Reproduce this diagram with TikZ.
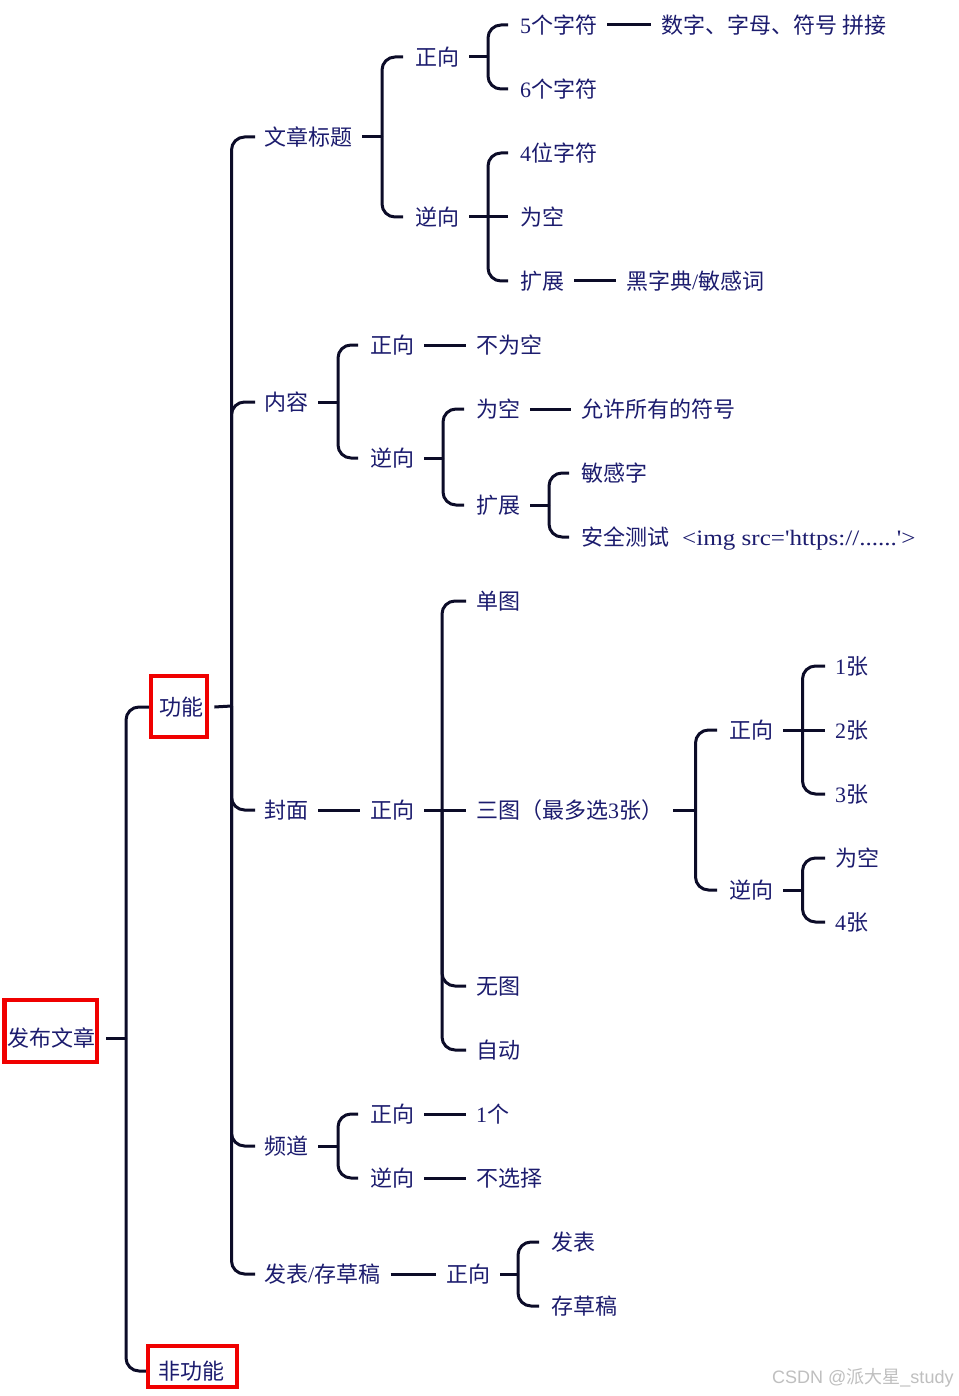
\documentclass[tikz,border=0pt]{standalone}
\usepackage{fontspec}
\setmainfont{Liberation Serif}
\newfontfamily\cjk{Noto Sans CJK SC}
\newfontfamily\lat{Liberation Serif}
\newfontfamily\latw{Liberation Serif}[FakeStretch=1.14]
\newfontfamily\wmsans{Liberation Sans}
\newcommand\D[1]{{\lat #1}}
\definecolor{ink}{RGB}{28,28,110}
\definecolor{wire}{RGB}{12,12,40}
\definecolor{boxred}{RGB}{240,0,0}
\begin{document}
\begin{tikzpicture}[x=1pt,y=-1pt,
  txt/.style={anchor=west, inner sep=0pt, text height=20pt, text depth=3pt,
    font=\cjk\fontsize{22}{26}\selectfont, text=ink},
  link/.style={draw=wire, line width=3pt},
  brk/.style={link, rounded corners=13pt},
  redbox/.style={draw=boxred, line width=4.5pt, inner sep=0pt}]
\useasboundingbox (0,0) rectangle (958,1396);
\fill[white] (0,0) rectangle (958,1396);

% ---------- nodes ----------
\node[txt] (root) at (7,1038) {发布文章};
\node[txt] (gn) at (159,707) {功能};
\node[txt] (fgn) at (158,1371) {非功能};

\node[txt] (a1) at (264,137) {文章标题};
\node[txt] (a1z) at (415,57) {正向};
\node[txt] (a1z1) at (520,25) {\D{5}个字符};
\node[txt] (a1z1d) at (661,25) {数字、字母、符号 拼接};
\node[txt] (a1z2) at (520,89) {\D{6}个字符};
\node[txt] (a1n) at (415,217) {逆向};
\node[txt] (a1n1) at (520,153) {\D{4}位字符};
\node[txt] (a1n2) at (520,217) {为空};
\node[txt] (a1n3) at (520,281) {扩展};
\node[txt] (a1n3d) at (626,281) {黑字典\D{/}敏感词};

\node[txt] (a2) at (264,402) {内容};
\node[txt] (a2z) at (370,345) {正向};
\node[txt] (a2zd) at (476,345) {不为空};
\node[txt] (a2n) at (370,458) {逆向};
\node[txt] (a2n1) at (476,409) {为空};
\node[txt] (a2n1d) at (581,409) {允许所有的符号};
\node[txt] (a2n2) at (476,505) {扩展};
\node[txt] (a2n2a) at (581,473) {敏感字};
\node[txt] (a2n2b) at (581,537) {安全测试\hspace{13pt}{\latw <img src='https://......'>}};

\node[txt] (a3) at (264,810) {封面};
\node[txt] (a3z) at (370,810) {正向};
\node[txt] (a3z1) at (476,601) {单图};
\node[txt] (a3z2) at (476,810) {三图（最多选\D{3}张）};
\node[txt] (a3z3) at (476,986) {无图};
\node[txt] (a3z4) at (476,1050) {自动};
\node[txt] (a3zz) at (729,730) {正向};
\node[txt] (a3zn) at (729,890) {逆向};
\node[txt] (p1) at (835,666) {\D{1}张};
\node[txt] (p2) at (835,730) {\D{2}张};
\node[txt] (p3) at (835,794) {\D{3}张};
\node[txt] (q1) at (835,858) {为空};
\node[txt] (q2) at (835,922) {\D{4}张};

\node[txt] (a4) at (264,1146) {频道};
\node[txt] (a4z) at (370,1114) {正向};
\node[txt] (a4zd) at (476,1114) {\D{1}个};
\node[txt] (a4n) at (370,1178) {逆向};
\node[txt] (a4nd) at (476,1178) {不选择};

\node[txt] (a5) at (264,1274) {发表\D{/}存草稿};
\node[txt] (a5z) at (446,1274) {正向};
\node[txt] (a5z1) at (551,1242) {发表};
\node[txt] (a5z2) at (551,1306) {存草稿};

\node[anchor=west, inner sep=0pt, text=black!25, font=\wmsans\fontsize{18}{21}\selectfont] (wm) at (772,1378) {CSDN @{\cjk 派大星}\_study};

% ---------- bracket points ----------
\coordinate (bR) at (126,1038);
\coordinate (bF) at (231.5,706);
\coordinate (bA1) at (382,137);
\coordinate (bA1z) at (488,57);
\coordinate (bA1n) at (488,217);
\coordinate (bA2) at (338,402);
\coordinate (bA2n) at (443,458);
\coordinate (bA2n2) at (549,505);
\coordinate (bA3z) at (442,810);
\coordinate (bA3z2) at (695.5,810);
\coordinate (bA3zz) at (802.5,730);
\coordinate (bA3zn) at (802.5,890);
\coordinate (bA4) at (338,1146);
\coordinate (bA5z) at (518,1274);

% ---------- connectors ----------
% root
\draw[link] ([xshift=11]root.east) -- (bR);
\draw[brk] (bR) |- ([xshift=-10]gn.west);
\draw[brk] (bR) |- ([xshift=-10]fgn.west);
% 功能
\draw[link] ([xshift=11]gn.east) -- (bF);
\foreach \c in {a1,a2,a3,a4,a5} \draw[brk] (bF) |- ([xshift=-9]\c.west);
% 文章标题
\draw[link] ([xshift=10]a1.east) -- (bA1);
\foreach \c in {a1z,a1n} \draw[brk] (bA1) |- ([xshift=-12]\c.west);
\draw[link] ([xshift=10]a1z.east) -- (bA1z);
\foreach \c in {a1z1,a1z2} \draw[brk] (bA1z) |- ([xshift=-12]\c.west);
\draw[link] ([xshift=10]a1z1.east) -- ([xshift=-10]a1z1d.west);
\draw[link] ([xshift=10]a1n.east) -- (bA1n);
\foreach \c in {a1n1,a1n3} \draw[brk] (bA1n) |- ([xshift=-12]\c.west);
\draw[link] (bA1n) -- ([xshift=-12]a1n2.west);
\draw[link] ([xshift=10]a1n3.east) -- ([xshift=-10]a1n3d.west);
% 内容
\draw[link] ([xshift=10]a2.east) -- (bA2);
\foreach \c in {a2z,a2n} \draw[brk] (bA2) |- ([xshift=-12]\c.west);
\draw[link] ([xshift=10]a2z.east) -- ([xshift=-10]a2zd.west);
\draw[link] ([xshift=10]a2n.east) -- (bA2n);
\foreach \c in {a2n1,a2n2} \draw[brk] (bA2n) |- ([xshift=-12]\c.west);
\draw[link] ([xshift=10]a2n1.east) -- ([xshift=-10]a2n1d.west);
\draw[link] ([xshift=10]a2n2.east) -- (bA2n2);
\foreach \c in {a2n2a,a2n2b} \draw[brk] (bA2n2) |- ([xshift=-12]\c.west);
% 封面
\draw[link] ([xshift=10]a3.east) -- ([xshift=-10]a3z.west);
\draw[link] ([xshift=10]a3z.east) -- (bA3z);
\foreach \c in {a3z1,a3z3,a3z4} \draw[brk] (bA3z) |- ([xshift=-10]\c.west);
\draw[link] (bA3z) -- ([xshift=-10]a3z2.west);
\draw[link] ([xshift=10]a3z2.east) -- (bA3z2);
\foreach \c in {a3zz,a3zn} \draw[brk] (bA3z2) |- ([xshift=-12]\c.west);
\draw[link] ([xshift=10]a3zz.east) -- (bA3zz);
\foreach \c in {p1,p3} \draw[brk] (bA3zz) |- ([xshift=-10]\c.west);
\draw[link] (bA3zz) -- ([xshift=-10]p2.west);
\draw[link] ([xshift=10]a3zn.east) -- (bA3zn);
\foreach \c in {q1,q2} \draw[brk] (bA3zn) |- ([xshift=-10]\c.west);
% 频道
\draw[link] ([xshift=10]a4.east) -- (bA4);
\foreach \c in {a4z,a4n} \draw[brk] (bA4) |- ([xshift=-12]\c.west);
\draw[link] ([xshift=10]a4z.east) -- ([xshift=-10]a4zd.west);
\draw[link] ([xshift=10]a4n.east) -- ([xshift=-10]a4nd.west);
% 发表/存草稿
\draw[link] ([xshift=10]a5.east) -- ([xshift=-10]a5z.west);
\draw[link] ([xshift=10]a5z.east) -- (bA5z);
\foreach \c in {a5z1,a5z2} \draw[brk] (bA5z) |- ([xshift=-12]\c.west);

% ---------- red boxes ----------
\node[redbox, minimum width=92.5pt, minimum height=62pt] (rootbox) at (50.75,1031) {};
\node[redbox, minimum width=56pt, minimum height=61pt] (gnbox) at (178.8,706.5) {};
\node[redbox, minimum width=89pt, minimum height=41pt] (fgnbox) at (192.5,1366.5) {};
\end{tikzpicture}
\end{document}
